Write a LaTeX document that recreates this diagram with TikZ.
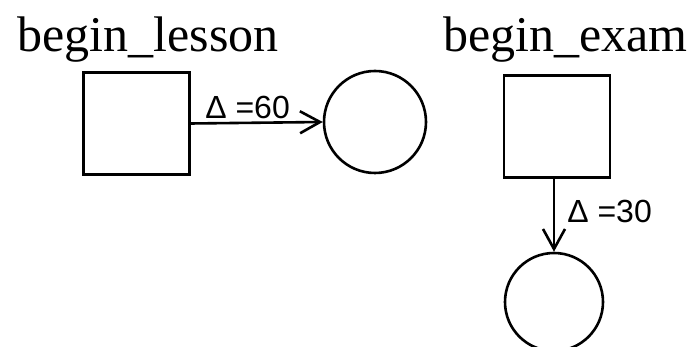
\documentclass[tikz,border=0pt]{standalone}
\usepackage{fontspec}
\setmainfont{Liberation Serif}
\newfontfamily\labelfont{Liberation Sans}
\usetikzlibrary{arrows.meta}

\begin{document}
\begin{tikzpicture}[x=0.5pt,y=0.5pt,
  event/.style={draw,line width=1.3pt,minimum width=53pt,minimum height=51pt,inner sep=0pt},
  place/.style={draw,circle,line width=1.3pt,minimum size=51pt,inner sep=0pt},
  title/.style={anchor=base west,inner sep=0pt,font=\fontsize{25}{28}\selectfont},
  delay/.style={anchor=base west,inner sep=0pt,font=\labelfont\fontsize{16}{18}\selectfont},
  flow/.style={line width=1.3pt,-{Straight Barb[length=10pt,width=11pt]}}]

% Frame
\useasboundingbox (0,0) rectangle (697,347);
\clip (0,0) rectangle (697,347);

% ===== LEFT: LESSON =====
\node[title] (lessontitle) at (17,295) {begin\_lesson};
\node[event] (lessonbox) at (136.5,223.5) {};
\node[place] (lessoncirc) at (375,225) {};
\draw[flow] (lessonbox.east) -- (lessoncirc.west)
  node[delay,pos=0.1,yshift=2.5pt] (lessondelay) {Δ =60};

% ===== RIGHT: EXAM =====
\node[title] (examtitle) at (443,295) {begin\_exam};
\node[event] (exambox) at (557,220.5) {};
\node[place,minimum size=49pt] (examcirc) at (554,45) {};
\draw[flow] (exambox.south -| examcirc.north) -- (examcirc.north)
  node[delay,pos=0.6,xshift=6pt] (examdelay) {Δ =30};

\end{tikzpicture}
\end{document}
